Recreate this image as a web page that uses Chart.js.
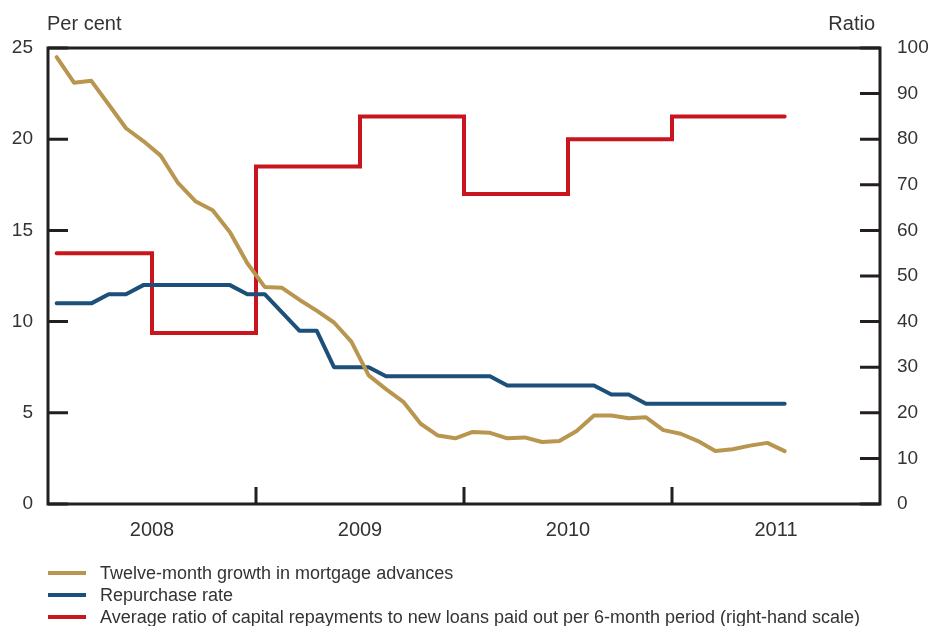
<!DOCTYPE html>
<html>
<head>
<meta charset="utf-8">
<script src="https://cdn.jsdelivr.net/npm/chart.js@4.4.1/dist/chart.umd.min.js"></script>
<style>
  body { margin: 0; background: #fff; }
  #wrap { position: relative; width: 934px; height: 626px; }
  #chart { position: absolute; left: 0; top: 0; }
  #legend { position: absolute; left: 48px; top: 562px; font-family: "Liberation Sans", Arial, sans-serif; font-size: 18px; color: #333; }
  #legend div { height: 22px; line-height: 22px; white-space: nowrap; }
  #legend span.sw { display: inline-block; width: 38px; height: 4px; vertical-align: middle; margin-right: 14px; position: relative; top: -1px; }
</style>
</head>
<body>
<div id="wrap">
  <canvas id="chart" width="934" height="626"></canvas>
  <div id="legend"></div>
</div>
<script>
// monthly observations, Jan 2008 - Jul 2011
const months = [
  'Jan 2008','Feb 2008','Mar 2008','Apr 2008','May 2008','Jun 2008','Jul 2008','Aug 2008','Sep 2008','Oct 2008','Nov 2008','Dec 2008',
  'Jan 2009','Feb 2009','Mar 2009','Apr 2009','May 2009','Jun 2009','Jul 2009','Aug 2009','Sep 2009','Oct 2009','Nov 2009','Dec 2009',
  'Jan 2010','Feb 2010','Mar 2010','Apr 2010','May 2010','Jun 2010','Jul 2010','Aug 2010','Sep 2010','Oct 2010','Nov 2010','Dec 2010',
  'Jan 2011','Feb 2011','Mar 2011','Apr 2011','May 2011','Jun 2011','Jul 2011'
];
const years = ['2008', '2009', '2010', '2011'];

const mortgageGrowth = [
  24.5, 23.1, 23.2, 21.9, 20.6, 19.9, 19.1, 17.6, 16.6, 16.1, 14.9, 13.2,
  11.9, 11.85, 11.2, 10.6, 9.95, 8.9, 7.05, 6.3, 5.6, 4.4, 3.75, 3.6,
  3.95, 3.9, 3.6, 3.65, 3.4, 3.45, 4.0, 4.85, 4.85, 4.7, 4.75, 4.05,
  3.85, 3.45, 2.9, 3.0, 3.2, 3.35, 2.9
];
const repoRate = [
  11, 11, 11, 11.5, 11.5, 12, 12, 12, 12, 12, 12, 11.5,
  11.5, 10.5, 9.5, 9.5, 7.5, 7.5, 7.5, 7, 7, 7, 7, 7,
  7, 7, 6.5, 6.5, 6.5, 6.5, 6.5, 6.5, 6, 6, 5.5, 5.5,
  5.5, 5.5, 5.5, 5.5, 5.5, 5.5, 5.5
];

// six-month periods (right-hand scale)
const halfYears = ['2008 H1', '2008 H2', '2009 H1', '2009 H2', '2010 H1', '2010 H2', '2011 H1'];
const repaymentRatio = [55, 37.5, 74, 85, 68, 80, 85];

const leftTicks = { min: 0, max: 25, step: 5 };
const rightTicks = { min: 0, max: 100, step: 10 };

const GOLD = '#b9964f', BLUE = '#1c4f7a', RED = '#c9151e', INK = '#333';
const FONT = '"Liberation Sans", Arial, sans-serif';

// x is months since start of 2008, points sit mid-month
const monthly = arr => arr.map((v, i) => ({ x: i + 0.5, y: v }));
const redPoints = halfYears.map((h, i) => ({ x: i === 0 ? 0.5 : i * 6, y: repaymentRatio[i] }));
redPoints.push({ x: months.length - 0.5, y: repaymentRatio[repaymentRatio.length - 1] });

const framePlugin = {
  id: 'frame',
  afterDatasetsDraw(chart) {
    const { ctx, chartArea: a, scales } = chart;
    ctx.save();
    ctx.strokeStyle = '#231f20';
    ctx.lineWidth = 3;
    ctx.lineCap = 'butt';
    ctx.strokeRect(a.left, a.top, a.right - a.left, a.bottom - a.top);
    ctx.beginPath();
    scales.y.ticks.forEach(t => {
      const py = scales.y.getPixelForValue(t.value);
      ctx.moveTo(a.left, py); ctx.lineTo(a.left + 20, py);
    });
    scales.y2.ticks.forEach(t => {
      const py = scales.y2.getPixelForValue(t.value);
      ctx.moveTo(a.right - 20, py); ctx.lineTo(a.right, py);
    });
    years.slice(1).forEach((yr, i) => {
      const px = scales.x.getPixelForValue((i + 1) * 12);
      ctx.moveTo(px, a.bottom); ctx.lineTo(px, a.bottom - 17);
    });
    ctx.stroke();
    ctx.fillStyle = INK;
    ctx.font = '20px ' + FONT;
    ctx.textBaseline = 'middle';
    ctx.textAlign = 'left';
    ctx.fillText('Per cent', a.left - 1, 24);
    ctx.textAlign = 'right';
    ctx.fillText('Ratio', a.right - 5, 24);
    ctx.restore();
  }
};

const chart = new Chart(document.getElementById('chart').getContext('2d'), {
  type: 'line',
  data: {
    datasets: [
      {
        label: 'Twelve-month growth in mortgage advances',
        data: monthly(mortgageGrowth),
        borderColor: GOLD, borderWidth: 4, pointRadius: 0,
        borderJoinStyle: 'round', borderCapStyle: 'round',
        yAxisID: 'y'
      },
      {
        label: 'Repurchase rate',
        data: monthly(repoRate),
        borderColor: BLUE, borderWidth: 4, pointRadius: 0,
        borderJoinStyle: 'round', borderCapStyle: 'round',
        yAxisID: 'y'
      },
      {
        label: 'Average ratio of capital repayments to new loans paid out per 6-month period (right-hand scale)',
        data: redPoints,
        stepped: true,
        borderColor: RED, borderWidth: 4, pointRadius: 0,
        borderJoinStyle: 'miter', borderCapStyle: 'round',
        yAxisID: 'y2'
      }
    ]
  },
  options: {
    responsive: false,
    animation: false,
    devicePixelRatio: 1,
    layout: { padding: { top: 48, left: 0, right: 0, bottom: 0 } },
    plugins: { legend: { display: false }, tooltip: { enabled: false } },
    scales: {
      x: {
        type: 'linear', min: 0, max: years.length * 12,
        afterFit: s => { s.height = 122; },
        afterBuildTicks: s => { s.ticks = years.map((y, i) => ({ value: i * 12 + 6 })); },
        grid: { display: false, drawTicks: false },
        border: { display: false },
        ticks: {
          autoSkip: false, maxRotation: 0, padding: 14,
          color: INK, font: { family: FONT, size: 20 },
          callback: (v, i) => years[i]
        }
      },
      y: {
        position: 'left', min: leftTicks.min, max: leftTicks.max,
        afterFit: s => { s.width = 48; },
        grid: { display: false, drawTicks: false },
        border: { display: false },
        ticks: { stepSize: leftTicks.step, padding: 15, color: INK, font: { family: FONT, size: 19 } }
      },
      y2: {
        position: 'right', min: rightTicks.min, max: rightTicks.max,
        afterFit: s => { s.width = 54; },
        grid: { display: false, drawTicks: false },
        border: { display: false },
        ticks: { stepSize: rightTicks.step, padding: 17, color: INK, font: { family: FONT, size: 19 } }
      }
    }
  },
  plugins: [framePlugin]
});

// legend below the plot
const legend = document.getElementById('legend');
chart.data.datasets.forEach(ds => {
  const row = document.createElement('div');
  const sw = document.createElement('span');
  sw.className = 'sw';
  sw.style.background = ds.borderColor;
  row.appendChild(sw);
  row.appendChild(document.createTextNode(ds.label));
  legend.appendChild(row);
});
</script>
</body>
</html>
